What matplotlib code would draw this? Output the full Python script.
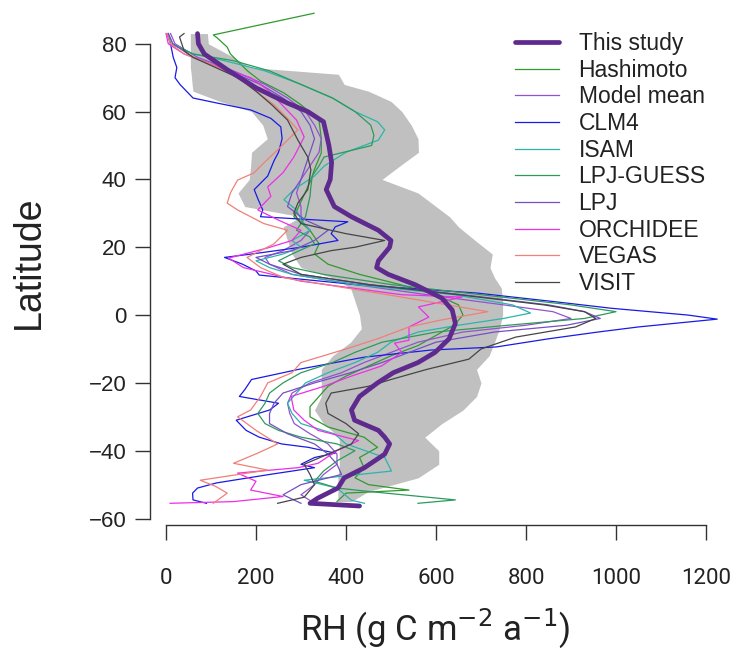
import numpy as np
import matplotlib
matplotlib.use("Agg")
import matplotlib.pyplot as plt

# ---- data (latitude, RH in g C m-2 a-1) ----
band_lat = [83, 80, 76, 73, 71, 68, 66, 63, 60, 56, 52, 48, 44, 40, 36, 32, 29, 26,
            22, 18, 14, 11, 8, 4, 0, -4, -8, -12, -16, -20, -24, -28, -32, -36,
            -40, -44, -48, -52, -55]
band_lo = [54, 54, 54, 54, 56, 58, 60, 120, 190, 215, 225, 190, 188, 185, 160, 175,
           300, 260, 270, 280, 300, 370, 410, 420, 430, 434, 410, 370, 345, 345, 345,
           330, 350, 385, 385, 385, 382, 382, 382]
band_hi = [92, 94, 150, 188, 383, 396, 450, 500, 524, 545, 560, 561, 520, 480, 560,
           600, 630, 650, 687, 725, 720, 730, 745, 748, 748, 741, 730, 718, 690, 700,
           690, 660, 613, 575, 606, 606, 560, 450, 412]

study_lat = [83, 80, 77, 72, 67, 62.5, 60, 57, 50, 45, 40, 37, 32, 29, 25, 22, 20, 16,
             14, 12, 9, 5, 1.5, -2.5, -7, -11, -14, -17, -20, -24, -28, -31, -34, -36,
             -38, -41, -45, -48, -51, -54, -55.5, -56.3]
study_rh = [70, 72, 85, 140, 200, 270, 315, 350, 362, 368, 365, 356, 374, 412, 472, 500,
            497, 472, 468, 494, 553, 613, 636, 643, 629, 598, 560, 505, 470, 430, 412, 419,
            472, 486, 497, 486, 441, 396, 382, 337, 320, 430]

hashi_lat = [89, 82.6, 81.7, 79, 77, 72, 69, 65.5, 62, 57.5, 52, 47.8, 43, 39.8, 37.8,
             32, 29, 25, 21, 18, 15, 12, 9, 6, 3, 0, -3, -6, -9, -12, -15, -18, -21,
             -24, -27, -30, -33, -36, -39, -42, -45, -48, -50, -51.6, -52.5, -55]
hashi_rh = [329, 105, 114, 136, 143, 181, 210, 262, 300, 340, 345, 345, 330, 322, 315,
            295, 284, 320, 340, 330, 360, 430, 520, 600, 650, 660, 640, 600, 560, 500,
            450, 400, 360, 340, 320, 320, 360, 440, 470, 430, 440, 420, 450, 540, 400, 380]

mean_lat = [83, 80, 76, 72, 68, 64, 60, 56, 52, 48, 44, 40, 36, 32, 28, 25, 22, 19, 17,
            15, 12, 9, 6, 3, 1, -1, -3, -5, -8, -11, -14, -17, -20, -23, -26, -29, -32,
            -35, -38, -41, -44, -47, -50, -53, -55.5]
mean_rh = [10, 20, 70, 150, 220, 270, 310, 330, 345, 340, 320, 300, 290, 300, 300, 320,
           300, 260, 220, 230, 280, 420, 580, 750, 860, 900, 800, 660, 560, 500, 440, 390,
           320, 280, 270, 275, 285, 320, 360, 380, 380, 350, 330, 300, 330]

clm_lat = [83, 80, 76, 73, 70, 68, 64, 62.5, 60.5, 58, 55.5, 52, 48, 45.5, 41, 37, 34,
           31, 29, 27.5, 26, 24, 22, 20, 18, 17, 15, 13, 11.8, 9, 6.5, 4, 2, 0, -1.2,
           -3.5, -5, -7, -9.4, -10.3, -12.4, -16, -19, -22, -24, -26, -28, -31, -34,
           -36, -38, -39, -40.7, -42, -44, -45, -47, -49.5, -51, -52.5, -54.5, -55.5]
clm_rh = [2, 10, 16, 24, 20, 31, 60, 114, 188, 233, 255, 258, 250, 240, 226, 196, 205,
          215, 210, 404, 376, 367, 382, 300, 190, 130, 170, 200, 207, 420, 690, 860, 990,
          1160, 1225, 1050, 960, 850, 734, 590, 441, 295, 190, 175, 163, 250, 230, 156,
          178, 207, 257, 316, 376, 330, 300, 330, 230, 112, 70, 59, 60, 90]

isam_lat = [83, 80, 77, 75, 72, 68, 64, 60, 57, 54.6, 51.6, 48, 44, 41, 39, 37, 34, 31,
            28, 25, 22, 20, 18, 16, 14, 12, 9, 6, 3, 0.6, -1, -3, -5, -8, -11, -14, -17,
            -20, -23, -26, -29, -32, -35, -38, -42, -46, -48.7, -51, -54.6, -55.5]
isam_rh = [5, 15, 60, 130, 220, 300, 370, 420, 470, 486, 472, 400, 352, 330, 307, 284,
           262, 290, 300, 320, 280, 300, 260, 200, 230, 280, 420, 640, 770, 810, 750, 650,
           560, 500, 470, 420, 360, 310, 290, 270, 280, 300, 374, 400, 486, 501, 307, 380,
           412, 441]

guess_lat = [83, 80, 77, 75, 72, 68, 64, 60, 56, 53, 50, 46.6, 44, 41, 38, 35, 32, 29,
             27, 25, 23, 21, 18, 16, 14, 12, 9, 6, 3, 1, -1, -3, -5, -8, -11, -14, -17,
             -20, -23, -26, -29, -32, -34, -36, -38, -40, -43, -46, -49, -51, -52,
             -54.5, -55.5]
guess_rh = [5, 10, 60, 150, 230, 300, 370, 420, 455, 462, 457, 351, 340, 325, 322, 320,
            315, 310, 300, 290, 320, 330, 280, 250, 280, 350, 500, 700, 900, 1000, 930,
            760, 600, 480, 420, 370, 300, 260, 230, 220, 204, 220, 250, 300, 380, 420, 380,
            350, 330, 380, 450, 643, 560]

lpj_lat = [83, 80, 76, 72, 68, 64, 60, 56, 52, 48, 44, 40, 36, 32, 28, 25, 22, 19, 17,
           15, 12, 9, 6, 3, 1, -1, -3, -5, -8, -11, -14, -17, -20, -23, -26, -29, -32,
           -35, -38, -41, -44, -47, -50, -53, -55.5]
lpj_rh = [5, 15, 60, 140, 210, 260, 300, 320, 330, 320, 310, 300, 280, 270, 310, 360,
          330, 280, 200, 230, 300, 450, 660, 850, 930, 965, 890, 730, 600, 540, 480, 410,
          330, 260, 240, 230, 230, 270, 330, 360, 380, 390, 300, 260, 300]

orch_lat = [83, 80, 77, 73, 70, 66.4, 61.4, 57.5, 52.5, 46.6, 42, 37.8, 35, 31, 28, 25,
            22, 19.8, 16.8, 14, 10, 6, 5.3, 2.4, -0.6, -3.5, -7.4, -8.3, -11, -15, -18,
            -21, -24, -28, -31, -34, -37, -40, -43.7, -45, -46.6, -49, -51.6, -53.5,
            -55, -55.5]
orch_rh = [0, 5, 40, 120, 188, 226, 262, 290, 307, 284, 260, 226, 233, 204, 250, 300,
           280, 226, 139, 172, 300, 524, 658, 561, 584, 540, 540, 508, 524, 479, 412, 351,
           278, 284, 307, 338, 428, 380, 338, 293, 159, 200, 188, 260, 150, 9]

vegas_lat = [83, 80, 77, 74, 70, 66, 62, 58, 54.6, 48.7, 44.8, 41.9, 39.8, 36, 33, 31, 27,
             25, 21, 17, 14, 11, 8, 5.3, 1, -1.5, -3.5, -7, -10, -14, -17, -20, -24, -28,
             -30, -34, -38, -40.7, -43.7, -45.7, -48.7, -50.5, -52.5, -55.5]
vegas_rh = [2, 10, 40, 100, 160, 200, 240, 270, 293, 248, 217, 195, 159, 143, 136, 159,
            217, 270, 240, 180, 210, 262, 400, 524, 715, 610, 540, 470, 400, 300, 280, 226,
            210, 188, 159, 200, 248, 204, 150, 226, 76, 110, 136, 105]

visit_lat = [83, 82, 80, 78, 76, 73, 70, 66, 62, 57.5, 51.6, 46.6, 42.8, 37, 33, 30, 27,
             24, 22, 20, 19, 17, 15, 12, 9, 6, 3, 1, -1, -3.5, -6.5, -10, -13, -16, -19,
             -21, -23, -26, -29, -32, -35, -38, -41, -44, -47, -50, -53.7, -55.5]
visit_rh = [40, 30, 35, 40, 60, 110, 160, 200, 235, 270, 293, 315, 322, 315, 293, 284, 300,
            400, 486, 420, 367, 300, 260, 300, 450, 650, 840, 930, 955, 910, 777, 700, 673,
            580, 500, 450, 367, 355, 360, 400, 428, 412, 360, 307, 320, 330, 307, 248]

series = [
    ("Hashimoto", hashi_lat, hashi_rh, "#2f9a2f"),
    ("Model mean", mean_lat, mean_rh, "#9452d0"),
    ("CLM4", clm_lat, clm_rh, "#1a1ae6"),
    ("ISAM", isam_lat, isam_rh, "#2bb5aa"),
    ("LPJ-GUESS", guess_lat, guess_rh, "#2e9a5a"),
    ("LPJ", lpj_lat, lpj_rh, "#7450c4"),
    ("ORCHIDEE", orch_lat, orch_rh, "#ee2ee8"),
    ("VEGAS", vegas_lat, vegas_rh, "#f08078"),
    ("VISIT", visit_lat, visit_rh, "#454545"),
]

plt.rcParams['font.family'] = ['Liberation Sans', 'DejaVu Sans']

fig = plt.figure(figsize=(7.37, 6.53), dpi=100)
# axes box: left spine at x=150 px, bottom spine at y=525 px
ax = fig.add_axes([150 / 737, 1 - 525 / 653, 587 / 737, 525 / 653])

ax.fill_betweenx(band_lat, band_lo, band_hi, color="#c0c0c0", lw=0, zorder=1)

handles = []
study_line, = ax.plot(study_rh, study_lat, color="#5e2a8e", lw=3.4,
                      solid_capstyle="round", zorder=4, label="This study")
handles.append(study_line)
for name, la, rh, col in series:
    ln, = ax.plot(rh, la, color=col, lw=0.9, zorder=3, label=name)
    handles.append(ln)

ax.set_xlim(-35.6, 1268.9)
ax.set_ylim(-61.9, 92.9)

for s in ["top", "right"]:
    ax.spines[s].set_visible(False)
ax.spines["left"].set_bounds(-60, 80)
ax.spines["bottom"].set_bounds(0, 1200)
for s in ["left", "bottom"]:
    ax.spines[s].set_color("#333333")
    ax.spines[s].set_linewidth(1.0)

ax.set_yticks(np.arange(-60, 81, 20))
ax.set_xticks(np.arange(0, 1201, 200))
ax.set_yticklabels([str(t).replace("-", "\u2212") for t in range(-60, 81, 20)])
ax.tick_params(axis="y", length=11, width=1.0, color="#333333", labelsize=16,
               labelcolor="#222222", pad=6)
ax.tick_params(axis="x", length=11, width=1.0, color="#333333", labelsize=16,
               labelcolor="#222222", pad=20)
for lab in ax.get_xticklabels():
    lab.set_family(['Roboto', 'DejaVu Sans'])

ax.set_ylabel("Latitude", fontsize=27, color="#222222", labelpad=30)
ax.set_xlabel(r"RH (g C m$^{-2}$ a$^{-1}$)", fontsize=25, color="#222222", labelpad=14,
              family=['Roboto', 'DejaVu Sans'])
ax.xaxis.set_label_coords(0.4855, -0.155)

leg = ax.legend(handles=handles, loc="upper left", bbox_to_anchor=(0.568, 1.0),
                frameon=False, fontsize=16.5, handlelength=1.88, handletextpad=0.87,
                labelspacing=0.16, borderaxespad=1.0)
for t in leg.get_texts():
    t.set_color("#222222")

fig.savefig("out.png", dpi=100)
